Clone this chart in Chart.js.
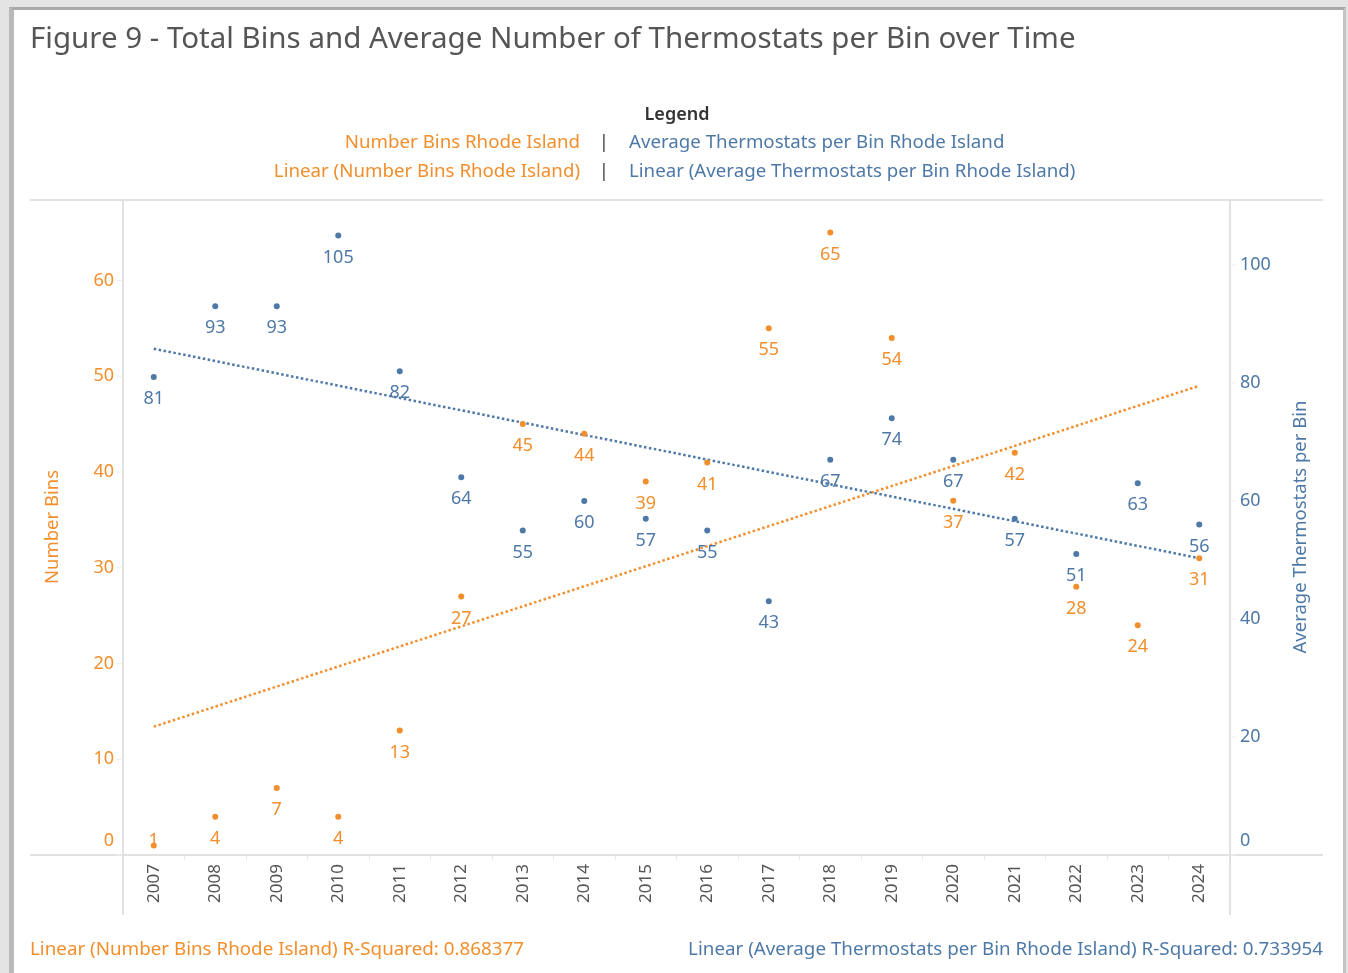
<!DOCTYPE html>
<html>
<head>
<meta charset="utf-8">
<script src="https://cdn.jsdelivr.net/npm/chart.js@4/dist/chart.umd.min.js"></script>
<style>
  html, body { margin: 0; padding: 0; }
  body { width: 1348px; height: 973px; background: #e4e4e4; position: relative; overflow: hidden; }
  .card { position: absolute; left: 9px; top: 7px; width: 1329px; height: 980px; background: #fff;
          border-left: 5px solid #b9b9b9; border-top: 3px solid #a9a9a9; border-right: 3px solid #c4c4c4; }
  #chart { position: absolute; left: 0; top: 0; }
</style>
</head>
<body>
<div class="card"></div>
<canvas id="chart" width="1348" height="973"></canvas>
<script>
// values
const years = ['2007', '2008', '2009', '2010', '2011', '2012', '2013', '2014', '2015',
               '2016', '2017', '2018', '2019', '2020', '2021', '2022', '2023', '2024'];
const numberBins = [1, 4, 7, 4, 13, 27, 45, 44, 39, 41, 55, 65, 54, 37, 42, 28, 24, 31];
const avgThermostats = [81, 93, 93, 105, 82, 64, 55, 60, 57, 55, 43, 67, 74, 67, 57, 51, 63, 56];
const binsTrend = [13.4, null, null, null, null, null, null, null, null,
                   null, null, null, null, null, null, null, null, 49.0];
const thermoTrend = [85.8, null, null, null, null, null, null, null, null,
                     null, null, null, null, null, null, null, null, 50.3];
const binsTicks = [0, 10, 20, 30, 40, 50, 60];
const thermoTicks = [0, 20, 40, 60, 80, 100];
const rSquared = ['0.868377', '0.733954'];

const ORANGE = '#f28e2b';
const BLUE = '#4e79a7';
const FONT = '"Noto Sans", sans-serif';

const deco = {
    id: 'deco',
    beforeDatasetsDraw(chart) {
        const { ctx, chartArea: a } = chart;
        ctx.save();
        ctx.strokeStyle = '#d9d9d9';
        ctx.lineWidth = 1.5;
        ctx.beginPath();
        ctx.moveTo(30, a.top); ctx.lineTo(1323, a.top);
        ctx.moveTo(30, a.bottom); ctx.lineTo(1323, a.bottom);
        ctx.moveTo(a.left, a.top); ctx.lineTo(a.left, 915);
        ctx.moveTo(a.right, a.top); ctx.lineTo(a.right, 915);
        ctx.stroke();
        // small tick marks on y axes
        ctx.strokeStyle = '#ececec';
        ctx.lineWidth = 1;
        const yl = chart.scales.yBins, yr = chart.scales.yThermo;
        ctx.beginPath();
        binsTicks.forEach(v => { const y = yl.getPixelForValue(v); ctx.moveTo(a.left - 6, y); ctx.lineTo(a.left, y); });
        thermoTicks.forEach(v => { const y = yr.getPixelForValue(v); ctx.moveTo(a.right, y); ctx.lineTo(a.right + 6, y); });
        ctx.stroke();
        ctx.restore();
    },
    afterDatasetsDraw(chart) {
        const { ctx, chartArea: a } = chart;
        ctx.save();
        ctx.font = '18px ' + FONT;
        ctx.textAlign = 'center';
        ctx.textBaseline = 'middle';
        [0, 1].forEach(di => {
            const ds = chart.data.datasets[di];
            ctx.fillStyle = ds.borderColor;
            chart.getDatasetMeta(di).data.forEach((pt, i) => {
                const y = Math.min(pt.y + 22, a.bottom - 14);
                ctx.fillText(String(ds.data[i]), pt.x, y);
            });
        });
        ctx.restore();
    },
    afterDraw(chart) {
        const { ctx, chartArea: a } = chart;
        const yl = chart.scales.yBins, yr = chart.scales.yThermo;
        const ds = chart.data.datasets;
        ctx.save();
        ctx.textBaseline = 'middle';

        // title
        ctx.fillStyle = '#555';
        ctx.font = '29.5px ' + FONT;
        ctx.textAlign = 'left';
        ctx.fillText('Figure 9 - Total Bins and Average Number of Thermostats per Bin over Time', 30, 40);

        // legend
        ctx.font = '600 18px ' + FONT;
        ctx.fillStyle = '#333';
        ctx.textAlign = 'center';
        ctx.fillText('Legend', 677, 115);
        ctx.font = '18.7px ' + FONT;
        ctx.fillStyle = '#444';
        ctx.fillText('|', 604, 143);
        ctx.fillText('|', 604, 172);
        ctx.textAlign = 'right';
        ctx.fillStyle = ORANGE;
        ctx.fillText(ds[0].label, 580, 143);
        ctx.fillText(ds[2].label, 580, 172);
        ctx.textAlign = 'left';
        ctx.fillStyle = BLUE;
        ctx.fillText(ds[1].label, 629, 143);
        ctx.fillText(ds[3].label, 629, 172);

        // y tick labels
        ctx.font = '18px ' + FONT;
        ctx.fillStyle = ORANGE;
        ctx.textAlign = 'right';
        binsTicks.forEach(v => ctx.fillText(String(v), 114, Math.min(yl.getPixelForValue(v), a.bottom - 14)));
        ctx.fillStyle = BLUE;
        ctx.textAlign = 'left';
        thermoTicks.forEach(v => ctx.fillText(String(v), a.right + 10, Math.min(yr.getPixelForValue(v), a.bottom - 14)));

        // axis titles
        ctx.font = '18.5px ' + FONT;
        ctx.textAlign = 'center';
        ctx.fillStyle = ORANGE;
        ctx.save();
        ctx.translate(53, 527); ctx.rotate(-Math.PI / 2);
        ctx.fillText('Number Bins', 0, 0);
        ctx.restore();
        ctx.fillStyle = BLUE;
        ctx.save();
        ctx.translate(1301, 527); ctx.rotate(-Math.PI / 2);
        ctx.fillText('Average Thermostats per Bin', 0, 0);
        ctx.restore();

        // R-squared footers
        ctx.font = '18.8px ' + FONT;
        ctx.fillStyle = ORANGE;
        ctx.textAlign = 'left';
        ctx.fillText(ds[2].label + ' R-Squared: ' + rSquared[0], 30, 950);
        ctx.fillStyle = BLUE;
        ctx.textAlign = 'right';
        ctx.fillText(ds[3].label + ' R-Squared: ' + rSquared[1], 1323, 950);
        ctx.restore();
    }
};

new Chart(document.getElementById('chart'), {
    type: 'line',
    data: {
        labels: years,
        datasets: [
            {
                label: 'Number Bins Rhode Island',
                data: numberBins,
                yAxisID: 'yBins',
                showLine: false,
                borderColor: ORANGE,
                backgroundColor: ORANGE,
                pointRadius: 3,
                pointBorderWidth: 0,
                order: 1
            },
            {
                label: 'Average Thermostats per Bin Rhode Island',
                data: avgThermostats,
                yAxisID: 'yThermo',
                showLine: false,
                borderColor: BLUE,
                backgroundColor: BLUE,
                pointRadius: 3,
                pointBorderWidth: 0,
                order: 1
            },
            {
                label: 'Linear (Number Bins Rhode Island)',
                data: binsTrend,
                yAxisID: 'yBins',
                spanGaps: true,
                borderColor: ORANGE,
                borderWidth: 2.5,
                borderDash: [2.5, 2.5],
                pointRadius: 0,
                order: 2
            },
            {
                label: 'Linear (Average Thermostats per Bin Rhode Island)',
                data: thermoTrend,
                yAxisID: 'yThermo',
                spanGaps: true,
                borderColor: BLUE,
                borderWidth: 2.5,
                borderDash: [2.5, 2.5],
                pointRadius: 0,
                order: 2
            }
        ]
    },
    options: {
        responsive: false,
        animation: false,
        layout: { padding: { top: 200, left: 0, right: 0, bottom: 0 } },
        plugins: {
            legend: { display: false },
            tooltip: { enabled: false }
        },
        scales: {
            x: {
                offset: true,
                grid: { display: true, drawOnChartArea: false, offset: true, tickLength: 5, color: '#e8e8e8' },
                border: { display: false },
                ticks: { minRotation: 90, maxRotation: 90, padding: 4, color: '#555', font: { family: FONT, size: 17 } },
                afterFit(s) { s.height = 118; }
            },
            yBins: {
                position: 'left',
                min: 0,
                max: 68.4,
                grid: { display: false },
                border: { display: false },
                ticks: { display: false },
                afterBuildTicks(s) { s.ticks = binsTicks.map(v => ({ value: v })); },
                afterFit(s) { s.width = 123; }
            },
            yThermo: {
                position: 'right',
                min: 0,
                max: 111,
                grid: { display: false },
                border: { display: false },
                ticks: { display: false },
                afterBuildTicks(s) { s.ticks = thermoTicks.map(v => ({ value: v })); },
                afterFit(s) { s.width = 118; }
            }
        }
    },
    plugins: [deco]
});
</script>
</body>
</html>
